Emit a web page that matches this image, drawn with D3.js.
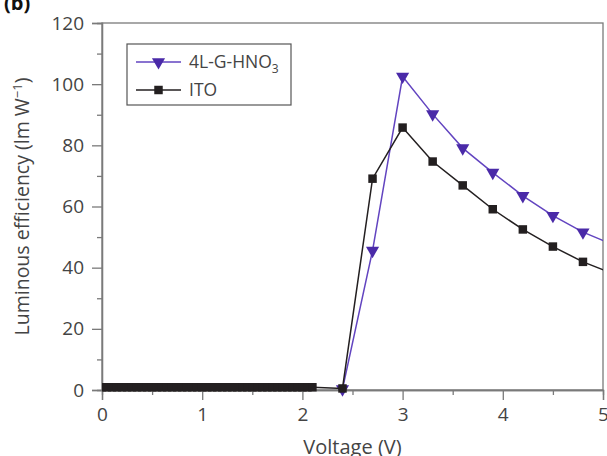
<!DOCTYPE html>
<html><head><meta charset="utf-8">
<script src="https://cdn.jsdelivr.net/npm/d3@7"></script>
<style>body{margin:0;background:#fff;}svg{display:block;}</style>
</head><body><svg id="c" width="607" height="456"></svg>
<script>
// ---- data ----
const xTicks = [0, 1, 2, 3, 4, 5];
const yTicks = [0, 20, 40, 60, 80, 100, 120];
const seriesNames = ["4L-G-HNO3", "ITO"];
// 4L-G-HNO3 (purple triangles)
const grV = [2.4, 2.7, 3.0, 3.3, 3.6, 3.9, 4.2, 4.5, 4.8, 5.1];
const grE = [0.3, 45.6, 102.5, 90.2, 79.1, 71.1, 63.5, 57.0, 51.6, 47.5];
// ITO (black squares)
const itoV = [0, 0.05, 0.1, 0.15, 0.2, 0.25, 0.3, 0.35, 0.4, 0.45, 0.5, 0.55, 0.6, 0.65, 0.7, 0.75, 0.8, 0.85, 0.9, 0.95,
  1.0, 1.05, 1.1, 1.15, 1.2, 1.25, 1.3, 1.35, 1.4, 1.45, 1.5, 1.55, 1.6, 1.65, 1.7, 1.75, 1.8, 1.85, 1.9, 1.95,
  2.0, 2.05, 2.1, 2.4, 2.7, 3.0, 3.3, 3.6, 3.9, 4.2, 4.5, 4.8, 5.1];
const itoE = [0.9, 0.9, 0.9, 0.9, 0.9, 0.9, 0.9, 0.9, 0.9, 0.9, 0.9, 0.9, 0.9, 0.9, 0.9, 0.9, 0.9, 0.9, 0.9, 0.9,
  0.9, 0.9, 0.9, 0.9, 0.9, 0.9, 0.9, 0.9, 0.9, 0.9, 0.9, 0.9, 0.9, 0.9, 0.9, 0.9, 0.9, 0.9, 0.9, 0.9,
  0.9, 0.9, 0.9, 0.5, 69.1, 85.8, 74.7, 66.9, 59.1, 52.5, 46.9, 41.9, 38.0];

const purpleLine = "#6244c0", purpleFill = "#4a2aa8", blackC = "#231f20", axisC = "#7a7a7a", textC = "#444";
const font = "'Open Sans', 'Noto Sans', sans-serif";

const svg = d3.select("#c");
const L = 102, R = 603, T = 23, B = 390;
const x = d3.scaleLinear().domain([0, 5]).range([L, R]);
const y = d3.scaleLinear().domain([0, 120]).range([B, T]);

// frame
svg.append("rect").attr("x", L).attr("y", T).attr("width", R - L).attr("height", B - T)
  .attr("fill", "none").attr("stroke", axisC).attr("stroke-width", 1.3);

// axes
const xAx = svg.append("g").attr("transform", `translate(0,${B})`)
  .call(d3.axisBottom(x).tickValues(xTicks).tickSize(10).tickPadding(8).tickFormat(d3.format("d")));
const xMinor = svg.append("g").attr("transform", `translate(0,${B})`)
  .call(d3.axisBottom(x).tickValues(d3.range(0.5, 5, 1)).tickSize(5).tickFormat(""));
const yAx = svg.append("g").attr("transform", `translate(${L},0)`)
  .call(d3.axisLeft(y).tickValues(yTicks).tickSize(10).tickPadding(8));
const yMinor = svg.append("g").attr("transform", `translate(${L},0)`)
  .call(d3.axisLeft(y).tickValues(d3.range(10, 120, 20)).tickSize(5).tickFormat(""));
[xAx, xMinor, yAx, yMinor].forEach(g => {
  g.select(".domain").attr("stroke", axisC).attr("stroke-width", 1.3);
  g.selectAll(".tick line").attr("stroke", axisC).attr("stroke-width", 1.3);
  g.selectAll(".tick text").attr("fill", textC).attr("font-family", font).attr("font-size", 19);
});

// axis titles
svg.append("text").attr("x", (L + R) / 2).attr("y", 454).attr("text-anchor", "middle")
  .attr("fill", textC).attr("font-family", font).attr("font-size", 20).text("Voltage (V)");
const yt = svg.append("text").attr("transform", `translate(29,${(T + B) / 2}) rotate(-90)`)
  .attr("text-anchor", "middle").attr("fill", textC).attr("font-family", font).attr("font-size", 19.5);
yt.append("tspan").text("Luminous efficiency (lm W");
yt.append("tspan").attr("dy", -7).attr("font-size", 13).text("−1");
yt.append("tspan").attr("dy", 7).text(")");

// panel label
svg.append("text").attr("x", 4).attr("y", 10).attr("font-family", font).attr("font-weight", "bold")
  .attr("font-size", 20).attr("fill", "#111").text("(b)");

// clip
svg.append("clipPath").attr("id", "clip").append("rect").attr("x", L).attr("y", 0).attr("width", R - L).attr("height", 456);
const plot = svg.append("g").attr("clip-path", "url(#clip)");

const line = d3.line().x(d => x(d[0])).y(d => y(d[1]));
const gr = grV.map((v, i) => [v, grE[i]]);
const ito = itoV.map((v, i) => [v, itoE[i]]);
const tri = d3.symbol().type(d3.symbolTriangle).size(75);
const sq = d3.symbol().type(d3.symbolSquare).size(72);

plot.append("path").datum(gr).attr("d", line).attr("fill", "none").attr("stroke", purpleLine).attr("stroke-width", 1.5);
plot.selectAll(".tri").data(gr).enter().append("path")
  .attr("d", tri).attr("fill", purpleFill)
  .attr("transform", d => `translate(${x(d[0])},${y(d[1])}) rotate(180)`);

plot.append("path").datum(ito).attr("d", line).attr("fill", "none").attr("stroke", blackC).attr("stroke-width", 1.5);
plot.selectAll(".sq").data(ito).enter().append("path")
  .attr("d", sq).attr("fill", blackC)
  .attr("transform", d => `translate(${x(d[0])},${y(d[1])})`);

// legend
const lg = svg.append("g");
lg.append("rect").attr("x", 127).attr("y", 44).attr("width", 164).attr("height", 61)
  .attr("fill", "#fff").attr("stroke", "#555").attr("stroke-width", 1.2);
const rows = [{name: seriesNames[0], y: 62, c: purpleLine, f: purpleFill, sym: tri, rot: 180},
              {name: seriesNames[1], y: 90, c: blackC, f: blackC, sym: sq, rot: 0}];
rows.forEach(r => {
  lg.append("line").attr("x1", 136).attr("x2", 181).attr("y1", r.y).attr("y2", r.y).attr("stroke", r.c).attr("stroke-width", 1.5);
  lg.append("path").attr("d", r.sym).attr("fill", r.f).attr("transform", `translate(158.5,${r.y}) rotate(${r.rot})`);
  const t = lg.append("text").attr("x", 189).attr("y", r.y + 6).attr("fill", textC).attr("font-family", font).attr("font-size", 17.5);
  if (r.name === "4L-G-HNO3") {
    t.append("tspan").text("4L-G-HNO");
    t.append("tspan").attr("dy", 5).attr("font-size", 12).text("3");
  } else t.text(r.name);
});
</script></body></html>
